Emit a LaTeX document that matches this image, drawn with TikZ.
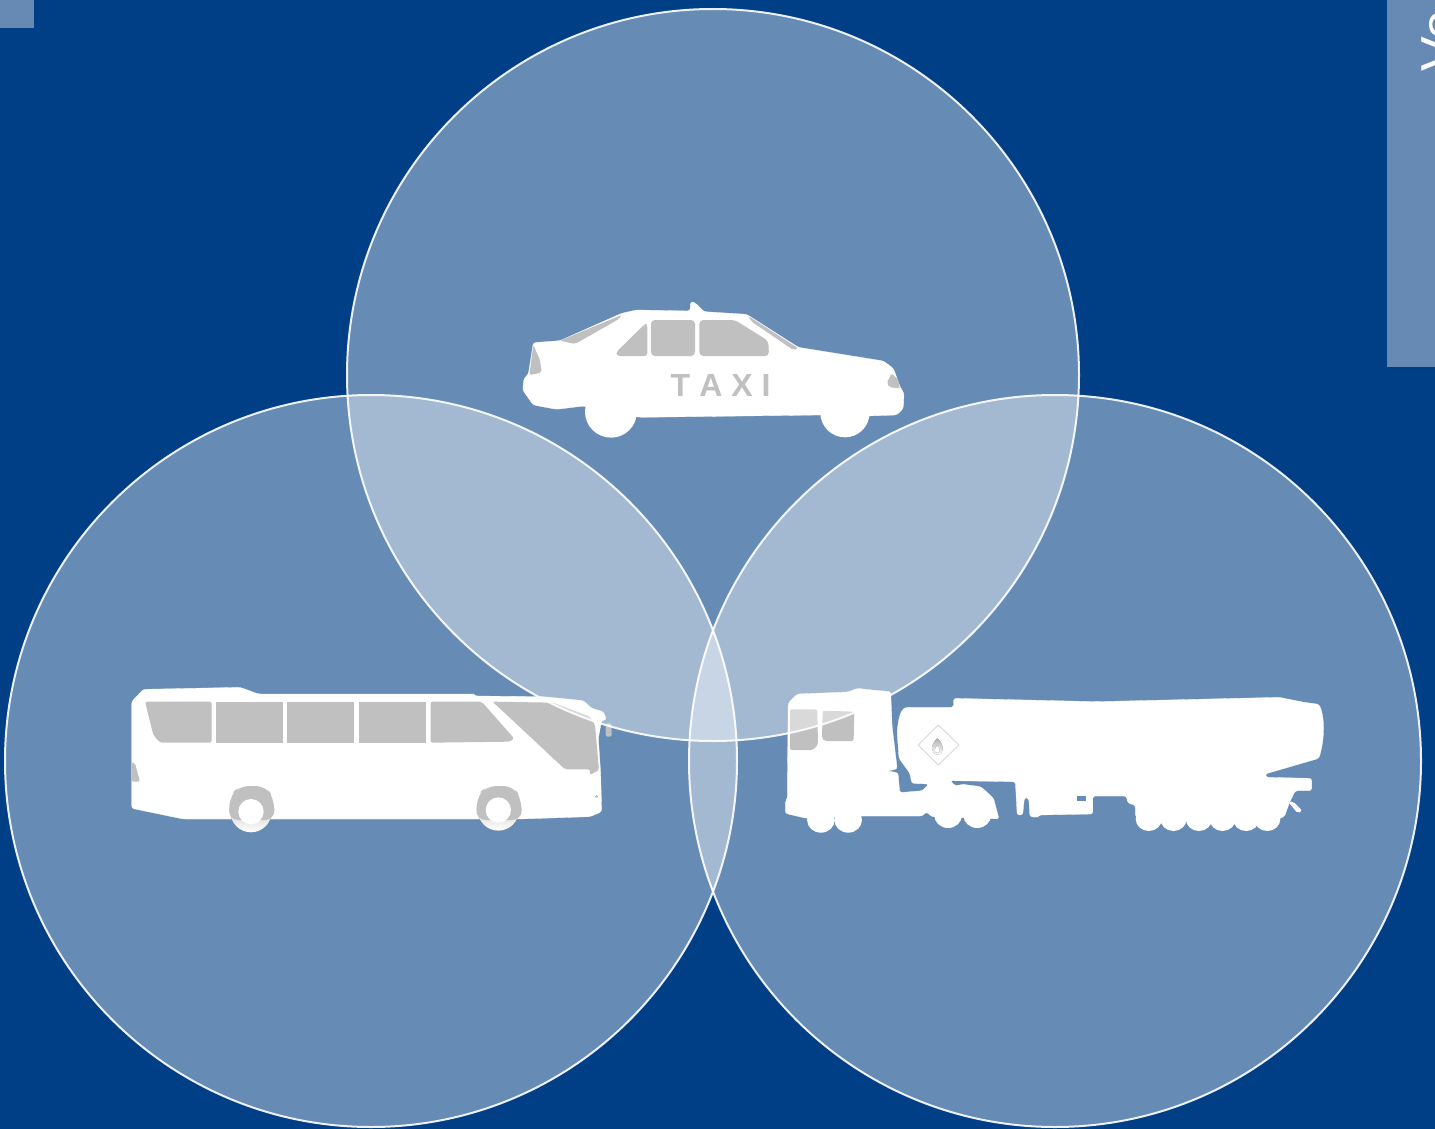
\documentclass[tikz,border=0pt]{standalone}
\usepackage{fontspec}
\setmainfont{Liberation Sans}
\definecolor{bgblue}{HTML}{003E85}
\definecolor{panelblue}{HTML}{678AB5}
\definecolor{shade}{HTML}{969696}
\tikzset{
  body/.style={fill=white,draw=white,line width=0.3pt,rounded corners=2.5pt},
  glass/.style={fill=shade,rounded corners=2pt},
  zoomed/.style={x=0.33333pt,y=-0.33333pt},
  ring/.style={fill=white,fill opacity=0.4,draw=white,draw opacity=0.9,line width=2pt},
}
\begin{document}
\begin{tikzpicture}[x=1pt,y=-1pt]
\useasboundingbox (0,0) rectangle (1435,1129);
\fill[bgblue] (0,0) rectangle (1435,1129);
\begin{scope}
\clip (0,0) rectangle (1435,1129);
\fill[panelblue] (0,0) rectangle (34,28);
\fill[panelblue] (1387,0) rectangle (1435,367);
\node[rotate=90,anchor=south west,inner sep=0pt,text=white,font=\fontsize{52}{52}\selectfont] (title) at (1458,72) {Vo};

% ---------- taxi
\begin{scope}[shift={(500,280)},zoomed]
\path[body] (100,188) -- (180,182) -- (365,100) -- (410,90) -- (570,93) -- (572,65) -- (585,68) -- (612,95) -- (740,103) -- (895,202) -- (1150,243) -- (1180,265) -- (1200,320) -- (1212,340) -- (1210,385) -- (1190,405) -- (1100,408) -- (960,405) -- (420,412) -- (250,378) -- (170,388) -- (100,375) -- (68,330) -- (72,295) -- (85,283) -- cycle;
\fill[white] (333,395) circle[radius=78];
\fill[white] (1035,398) circle[radius=74];
\path[glass] (180,182) -- (365,105) -- (355,118) -- (225,192) -- cycle;
\path[glass] (100,195) -- (120,240) -- (125,278) -- (88,285) -- cycle;
\path[glass,rounded corners=3pt] (350,215) -- (435,132) -- (442,132) -- (442,228) -- (350,228) -- cycle;
\path[glass,rounded corners=4pt] (453,120) rectangle (585,228);
\path[glass,rounded corners=4pt] (598,120) -- (705,120) -- (805,183) -- (807,228) -- (598,228) -- cycle;
\path[glass] (745,108) -- (895,205) -- (880,210) -- (755,125) -- cycle;
\path[glass] (1160,310) -- (1175,280) -- (1195,300) -- (1200,325) -- (1170,322) -- cycle;
\node[text=shade,font=\fontsize{32}{32}\selectfont\bfseries,inner sep=0pt] (taxilabel) at (662,315) {T\kern9pt A\kern9pt X\kern9pt I};
\end{scope}

% ---------- bus
\begin{scope}[shift={(110,670)},zoomed]
\path[body] (65,95) -- (100,58) -- (390,52) -- (445,72) -- (1090,72) -- (1095,78) -- (1300,80) -- (1420,92) -- (1445,115) -- (1480,125) -- (1490,150) -- (1475,150) -- (1465,205) -- (1472,310) -- (1475,425) -- (1440,440) -- (1230,447) -- (220,447) -- (65,415) -- cycle;
\path[glass] (1487,160) -- (1505,160) -- (1505,200) -- (1487,200) -- cycle;
\foreach \c/\h in {423/425,1165/420}{
  \fill[shade] (\c,\h) circle[radius=62];
  \path[glass,rounded corners=10pt] (\c-68,450) -- (\c-62,375) -- (\c-35,348) -- (\c+45,348) -- (\c+68,385) -- (\c+72,450) -- cycle;
  \fill[white] (\c,\h) circle[radius=38];
}
\path[glass] (105,95) -- (305,95) -- (305,218) -- (150,218) -- (130,195) -- cycle;
\path[glass,rounded corners=0pt] (318,95) rectangle (518,218);
\path[glass,rounded corners=0pt] (530,95) rectangle (733,218);
\path[glass,rounded corners=0pt] (746,95) rectangle (948,218);
\path[glass] (962,95) -- (1115,95) -- (1212,205) -- (1200,215) -- (962,218) -- cycle;
\path[glass] (1148,95) -- (1330,98) -- (1440,140) -- (1455,165) -- (1467,300) -- (1440,315) -- (1440,298) -- (1365,298) -- cycle;
\path[glass] (65,275) -- (75,280) -- (90,335) -- (65,335) -- cycle;
\fill[shade] (1460,380) circle[radius=4];
\end{scope}

% ---------- tanker
\begin{scope}[shift={(770,670)},x=0.3635pt,y=-0.33333pt]
\path[body] (50,100) -- (75,72) -- (215,66) -- (240,55) -- (280,60) -- (332,65) -- (336,170) -- (350,297) -- (322,303) -- (352,308) -- (357,368) -- (420,362) -- (437,342) -- (390,340) -- (385,310) -- (355,265) -- (350,190) .. controls (352,150) and (360,120) .. (375,112) -- (505,112) -- (505,85) -- (900,95) -- (1400,82) -- (1470,97) -- (1510,103) .. controls (1522,130) and (1530,190) .. (1510,265) -- (1362,312) -- (1365,322) -- (1490,325) -- (1490,362) -- (1445,362) -- (1430,395) -- (1415,440) -- (1390,450) -- (1040,450) -- (1005,440) -- (1005,405) -- (985,400) -- (980,378) -- (888,378) -- (888,432) -- (740,435) -- (735,442) -- (715,440) -- (712,385) -- (700,382) -- (695,435) -- (680,435) -- (675,335) -- (495,332) -- (510,348) -- (530,343) -- (580,350) -- (615,385) -- (630,447) -- (590,445) -- (445,440) -- (430,425) -- (420,438) -- (260,438) -- (100,445) -- (42,430) -- (42,395) -- (48,385) -- (48,320) -- cycle;
\foreach \c in {1042,1110,1180,1245,1310,1368}{\fill[white] (\c,447) circle[radius=36];}
\foreach \c in {490,570}{\fill[white] (\c,436) circle[radius=38];}
\foreach \c in {140,215}{\fill[white] (\c,450) circle[radius=38];}
\fill[white,rounded corners=2pt] (1425,395) -- (1452,430) -- (1464,422) -- (1440,395) -- cycle;
\fill[bgblue] (845,378) rectangle (868,392);
\path[glass] (55,118) -- (130,118) -- (132,225) -- (118,240) -- (55,240) -- cycle;
\path[glass] (145,122) -- (232,125) -- (230,213) -- (150,213) -- (143,205) -- cycle;
\draw[shade!60,line width=0.9pt,line join=round] (463,165) -- (520,225) -- (463,285) -- (408,225) -- cycle;
\fill[shade,even odd rule] (460,205) .. controls (480,222) and (480,252) .. (460,254) .. controls (442,252) and (440,225) .. (460,205) -- cycle
  (460,226) .. controls (470,236) and (470,248) .. (460,249) .. controls (450,248) and (451,236) .. (460,226) -- cycle;
\end{scope}

% ---------- circles
\path[ring] (713,375) circle[radius=366];
\path[ring] (371,761) circle[radius=366];
\path[ring] (1055,761) circle[radius=366];
\end{scope}
\end{tikzpicture}
\end{document}
